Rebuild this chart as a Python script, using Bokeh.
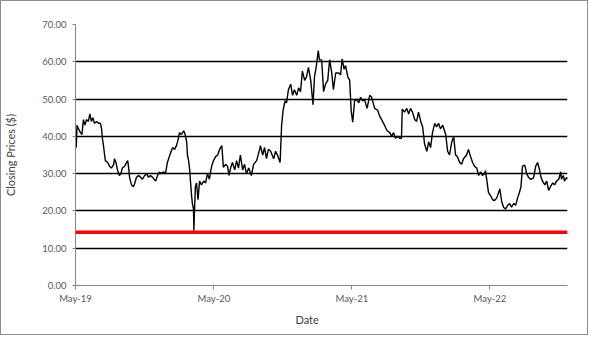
import pandas as pd
from bokeh.plotting import figure
from bokeh.models import (Range1d, FixedTicker, DatetimeTickFormatter,
                          PrintfTickFormatter, Span, ColumnDataSource, Title)
from bokeh.embed import file_html
from bokeh.resources import INLINE

# ---------------- data ----------------
dates = [
    "2019-05-01", "2019-05-03", "2019-05-05", "2019-05-09", "2019-05-14", "2019-05-18",
    "2019-05-22", "2019-05-26", "2019-05-30", "2019-06-04", "2019-06-08", "2019-06-12",
    "2019-06-16", "2019-06-20", "2019-06-26", "2019-07-01", "2019-07-06", "2019-07-09",
    "2019-07-11", "2019-07-14", "2019-07-17", "2019-07-19", "2019-07-25", "2019-07-30",
    "2019-08-04", "2019-08-10", "2019-08-12", "2019-08-16", "2019-08-20", "2019-08-25",
    "2019-08-29", "2019-09-02", "2019-09-08", "2019-09-13", "2019-09-16", "2019-09-18",
    "2019-09-21", "2019-09-26", "2019-10-01", "2019-10-05", "2019-10-09", "2019-10-15",
    "2019-10-20", "2019-10-25", "2019-10-31", "2019-11-05", "2019-11-10", "2019-11-15",
    "2019-11-21", "2019-11-29", "2019-12-04", "2019-12-09", "2019-12-14", "2019-12-20",
    "2019-12-25", "2019-12-30", "2020-01-07", "2020-01-13", "2020-01-18", "2020-01-23",
    "2020-01-27", "2020-01-31", "2020-02-05", "2020-02-11", "2020-02-15", "2020-02-19",
    "2020-02-21", "2020-02-24", "2020-02-27", "2020-02-29", "2020-03-03", "2020-03-05",
    "2020-03-08", "2020-03-09", "2020-03-11", "2020-03-13", "2020-03-16", "2020-03-20",
    "2020-03-24", "2020-03-29", "2020-04-04", "2020-04-09", "2020-04-14", "2020-04-19",
    "2020-04-25", "2020-04-30", "2020-05-05", "2020-05-11", "2020-05-16", "2020-05-22",
    "2020-05-26", "2020-06-01", "2020-06-06", "2020-06-10", "2020-06-14", "2020-06-19",
    "2020-06-25", "2020-06-30", "2020-07-05", "2020-07-10", "2020-07-16", "2020-07-21",
    "2020-07-26", "2020-08-01", "2020-08-08", "2020-08-14", "2020-08-22", "2020-08-30",
    "2020-09-01", "2020-09-07", "2020-09-12", "2020-09-17", "2020-09-22", "2020-09-28",
    "2020-10-06", "2020-10-11", "2020-10-16", "2020-10-23", "2020-10-27", "2020-10-31",
    "2020-11-05", "2020-11-09", "2020-11-14", "2020-11-20", "2020-11-25", "2020-11-30",
    "2020-12-06", "2020-12-11", "2020-12-16", "2020-12-21", "2020-12-27", "2021-01-01",
    "2021-01-06", "2021-01-12", "2021-01-18", "2021-01-22", "2021-01-27", "2021-02-01",
    "2021-02-04", "2021-02-10", "2021-02-15", "2021-02-20", "2021-02-26", "2021-03-03",
    "2021-03-08", "2021-03-13", "2021-03-19", "2021-03-27", "2021-04-01", "2021-04-05",
    "2021-04-10", "2021-04-14", "2021-04-20", "2021-04-25", "2021-04-29", "2021-05-03",
    "2021-05-08", "2021-05-13", "2021-05-19", "2021-05-24", "2021-05-29", "2021-06-03",
    "2021-06-10", "2021-06-17", "2021-06-22", "2021-06-30", "2021-07-08", "2021-07-13",
    "2021-07-21", "2021-07-26", "2021-08-02", "2021-08-09", "2021-08-14", "2021-08-19",
    "2021-08-24", "2021-08-30", "2021-09-04", "2021-09-09", "2021-09-11", "2021-09-17",
    "2021-09-23", "2021-09-28", "2021-10-03", "2021-10-08", "2021-10-14", "2021-10-19",
    "2021-10-24", "2021-10-30", "2021-11-04", "2021-11-09", "2021-11-15", "2021-11-20",
    "2021-11-25", "2021-11-30", "2021-12-06", "2021-12-11", "2021-12-16", "2021-12-21",
    "2021-12-27", "2022-01-04", "2022-01-09", "2022-01-14", "2022-01-20", "2022-01-25",
    "2022-01-30", "2022-02-04", "2022-02-10", "2022-02-15", "2022-02-20", "2022-02-28",
    "2022-03-05", "2022-03-11", "2022-03-16", "2022-03-21", "2022-03-27", "2022-04-01",
    "2022-04-06", "2022-04-11", "2022-04-17", "2022-04-19", "2022-04-23", "2022-04-27",
    "2022-05-03", "2022-05-08", "2022-05-13", "2022-05-19", "2022-05-27", "2022-06-01",
    "2022-06-06", "2022-06-11", "2022-06-17", "2022-06-22", "2022-06-27", "2022-07-03",
    "2022-07-08", "2022-07-13", "2022-07-18", "2022-07-22", "2022-07-26", "2022-08-01",
    "2022-08-06", "2022-08-11", "2022-08-16", "2022-08-24", "2022-08-30", "2022-09-04",
    "2022-09-09", "2022-09-13", "2022-09-17", "2022-09-23", "2022-09-28", "2022-10-03",
    "2022-10-08", "2022-10-14", "2022-10-19", "2022-10-24", "2022-10-30", "2022-11-04",
    "2022-11-06", "2022-11-11", "2022-11-14", "2022-11-20", "2022-11-22",
]
closing = [
    41.5, 37.0, 43.0, 42.0, 41.0, 40.5,
    44.5, 43.0, 44.5, 44.0, 46.0, 44.0,
    45.0, 43.5, 44.0, 43.5, 43.5, 42.0,
    39.5, 37.5, 35.0, 33.5, 33.0, 32.0,
    31.5, 32.5, 34.0, 33.0, 31.0, 29.5,
    30.0, 31.5, 32.0, 33.0, 33.5, 32.0,
    29.0, 27.0, 26.5, 27.5, 29.0, 29.5,
    29.0, 28.5, 29.5, 30.0, 29.0, 29.5,
    29.0, 28.0, 29.5, 30.4, 30.0, 30.5,
    30.0, 33.0, 35.5, 37.0, 36.5, 37.5,
    39.0, 41.0, 40.5, 41.5, 40.5, 38.5,
    35.0, 33.5, 31.0, 28.0, 24.0, 22.0,
    20.5, 14.7, 21.0, 26.5, 27.5, 23.0,
    28.0, 27.0, 28.0, 27.5, 30.0, 28.5,
    32.0, 33.5, 34.5, 35.0, 36.5, 37.5,
    31.7, 32.5, 32.0, 29.5, 31.5, 33.0,
    31.0, 33.5, 31.5, 35.0, 31.0, 32.5,
    30.0, 31.5, 29.5, 32.5, 33.5, 36.5,
    37.5, 35.0, 37.0, 34.0, 36.5, 36.0,
    34.0, 36.0, 35.0, 33.0, 43.0, 47.0,
    49.5, 49.0, 52.5, 54.0, 51.0, 52.5,
    51.0, 53.0, 52.0, 57.5, 55.0, 56.0,
    58.5, 55.0, 48.5, 56.0, 59.0, 63.0,
    60.5, 60.5, 52.0, 54.0, 55.0, 60.5,
    57.5, 52.5, 57.0, 57.0, 56.5, 60.8,
    58.0, 59.0, 56.0, 55.0, 46.9, 43.8,
    49.5, 50.0, 49.0, 50.5, 49.5, 50.0,
    47.5, 51.0, 50.5, 47.5, 47.0, 45.5,
    44.0, 43.0, 41.5, 41.0, 40.0, 41.0,
    39.5, 40.0, 39.5, 39.5, 47.3, 46.5,
    47.5, 46.0, 47.5, 46.5, 44.5, 44.0,
    46.5, 44.0, 42.5, 38.0, 36.0, 38.5,
    37.0, 41.0, 43.5, 42.5, 43.5, 42.0,
    43.0, 40.5, 36.0, 35.0, 38.5, 40.0,
    35.0, 34.5, 33.0, 32.5, 34.0, 35.0,
    36.5, 34.5, 33.0, 32.0, 31.5, 29.5,
    30.5, 29.5, 30.0, 30.8, 28.0, 25.0,
    24.0, 23.0, 22.8, 23.5, 25.9, 22.5,
    21.0, 20.5, 21.5, 22.0, 21.0, 22.0,
    21.5, 23.5, 25.0, 26.5, 32.0, 32.3,
    30.0, 29.0, 28.5, 28.8, 32.0, 33.0,
    31.0, 29.0, 28.0, 27.0, 28.0, 25.5,
    26.5, 27.5, 27.0, 28.0, 28.5, 30.5,
    28.5, 29.5, 28.0, 29.0, 28.5,
]
threshold = 14.3
y_ticks = [0, 10, 20, 30, 40, 50, 60, 70]
x_tick_dates = ["2019-05-01", "2020-05-01", "2021-05-01", "2022-05-01"]
x_start, x_end = "2019-05-01", "2022-11-22"
x_title = "Date"
y_title = "Closing Prices ($)"

# ---------------- figure ----------------
FONT = "Lato"
GREY_TXT = "#595959"
AXIS_GREY = "#868686"
TITLE_GREY = "#404040"

src = ColumnDataSource(dict(date=pd.to_datetime(dates), close=closing))

p = figure(width=588, height=335, x_axis_type="datetime",
           output_backend="svg", toolbar_location=None,
           x_range=Range1d(pd.Timestamp(x_start), pd.Timestamp(x_end)),
           y_range=Range1d(0, 70),
           min_border_left=74, min_border_right=22,
           min_border_top=23, min_border_bottom=51)
p.styles = {"border": "1px solid #8c8c8c"}
p.outline_line_color = None
p.background_fill_color = "white"
p.border_fill_color = "white"

# grid
p.xgrid.grid_line_color = None
p.ygrid.ticker = FixedTicker(ticks=y_ticks[1:])
p.ygrid.grid_line_color = "black"
p.ygrid.grid_line_width = 1.3

# y axis
p.yaxis.ticker = FixedTicker(ticks=y_ticks)
p.yaxis.formatter = PrintfTickFormatter(format="%.2f")
p.yaxis.axis_label = y_title
p.yaxis.axis_label_standoff = 22
p.yaxis.major_label_standoff = 6
p.yaxis.major_tick_out = 3
p.yaxis.major_tick_in = 0
p.yaxis.minor_tick_line_color = None

# x axis
p.xaxis.ticker = FixedTicker(ticks=[pd.Timestamp(d).value / 1e6 for d in x_tick_dates])
fmt = "%b-%y"
p.xaxis.formatter = DatetimeTickFormatter(years=fmt, months=fmt, days=fmt,
                                          hours=fmt, minutes=fmt, seconds=fmt)
p.xaxis.major_label_standoff = 3
p.xaxis.major_tick_out = 4
p.xaxis.major_tick_in = 0
p.xaxis.minor_tick_line_color = None

for ax in (p.xaxis, p.yaxis):
    ax.axis_line_color = AXIS_GREY
    ax.major_tick_line_color = AXIS_GREY
    ax.major_label_text_font = FONT
    ax.major_label_text_font_size = "9.5px"
    ax.major_label_text_color = GREY_TXT
    ax.axis_label_text_font = FONT
    ax.axis_label_text_font_size = "11px"
    ax.axis_label_text_font_style = "normal"
    ax.axis_label_text_color = TITLE_GREY

# x-axis title, placed like Excel's (slightly left of the plot centre)
p.add_layout(Title(text=x_title, align="left", offset=220, standoff=8,
                   text_font=FONT, text_font_size="11px",
                   text_font_style="normal", text_color=TITLE_GREY), "below")

# red threshold line
p.add_layout(Span(location=threshold, dimension="width",
                  line_color="#ff0000", line_width=3.6))

# price line
p.line("date", "close", source=src, line_color="black", line_width=1.4)

open("out.html", "w").write(file_html(p, INLINE))
